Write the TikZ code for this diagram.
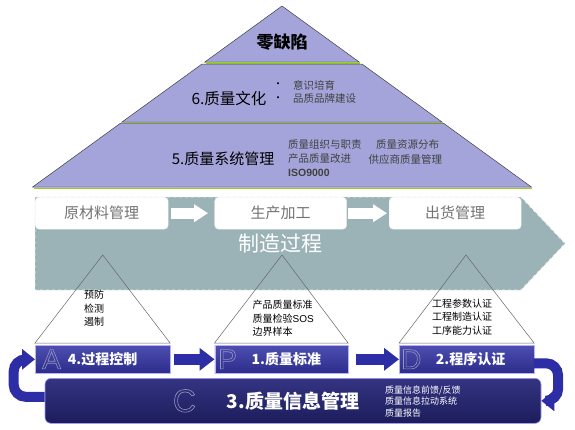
\documentclass[tikz,border=0pt]{standalone}
\usepackage{fontspec}
\setmainfont{Noto Sans CJK SC}
\setsansfont{Liberation Sans}
\usetikzlibrary{arrows.meta,positioning}
\definecolor{pyrfill}{RGB}{164,164,218}
\definecolor{edgegreen}{RGB}{154,205,50}
\definecolor{bandgray}{RGB}{155,179,183}
\definecolor{boxtop}{RGB}{78,78,178}
\definecolor{boxbot}{RGB}{44,44,138}
\definecolor{ctop}{RGB}{52,52,130}
\definecolor{cbot}{RGB}{28,28,92}
\definecolor{loopblue}{RGB}{45,45,165}
\definecolor{lettergray}{RGB}{150,150,190}
\newcommand{\fsz}[1]{\fontsize{#1}{#1}\selectfont}
\newcommand{\hollow}[1]{\special{pdf:literal direct 1 Tr 0.6 w}#1\special{pdf:literal direct 0 Tr 0.4 w}}
\begin{document}
\begin{tikzpicture}[x=1pt, y=-1pt, every node/.style={inner sep=1pt},
  layer/.style={fill=pyrfill, draw=gray!50!black, line width=0.5pt},
  greenedge/.style={draw=edgegreen, line width=1.6pt},
  subtxt/.style={font=\fsz{10.5}, text=black!75},
  flowbox/.style={fill=white, draw=white!85!gray, rounded corners=4pt, minimum height=32pt,
    anchor=north west, text=black!55, font=\fsz{15}},
  flowarrow/.style={white, line width=11pt, -{Triangle[length=14pt,width=17pt]}},
  tri/.style={draw=gray!80!black, line width=0.5pt},
  tritxt/.style={font=\fontsize{10}{13.5}\selectfont, align=left, anchor=west},
  pdcabox/.style={top color=boxtop, bottom color=boxbot, draw=white!70!blue, line width=0.6pt,
    minimum height=28pt, anchor=north west, text=white, font=\bfseries\fsz{14}},
  cbox/.style={top color=ctop, bottom color=cbot, draw=white!60!blue, line width=0.6pt,
    rounded corners=6pt, anchor=north west, text=white, font=\bfseries\fsz{19}},
  letter/.style={text=lettergray, font=\sffamily\fsz{28}},
  pdcaarrow/.style={loopblue, line width=11.5pt, -{Triangle[length=15pt,width=22pt]}},
  looparrow/.style={loopblue, line width=10pt, rounded corners=12pt, -{Triangle[length=13pt,width=20pt]}}]
\useasboundingbox (0,0) rectangle (575,429);

% pyramid
\draw[layer] (282,6) -- (359.2,62) -- (204.8,62) -- cycle;
\draw[greenedge] (206,63.2) -- (360,63.2);
\draw[layer] (202,64) -- (362,64) -- (442,122) -- (122,122) -- cycle;
\draw[greenedge] (124,123.2) -- (443,123.2);
\draw[layer] (120.8,123) -- (443.2,123) -- (531.4,187) -- (32.6,187) -- cycle;
\draw[greenedge] (34,188.3) -- (532,188.3);

\node[font=\fsz{17}\bfseries] (zero) at (282,42) {零缺陷};
\node[font=\fsz{15.5}] (culture) at (229,99) {6.质量文化};
\node[font=\fsz{10}] (dot1) at (278,85) {•};
\node[font=\fsz{10}] (dot2) at (278,99) {•};
\node[subtxt, anchor=west] (cult1) at (292,85) {意识培育};
\node[subtxt, anchor=west] (cult2) at (292,99) {品质品牌建设};
\node[font=\fsz{15}] (qsys) at (223,159) {5.质量系统管理};
\node[subtxt, anchor=west] (qs1) at (287,145) {质量组织与职责};
\node[subtxt, anchor=west] (qs2) at (375,145) {质量资源分布};
\node[subtxt, anchor=west] (qs3) at (287,159) {产品质量改进};
\node[subtxt, anchor=west] (qs4) at (367.5,159) {供应商质量管理};
\node[subtxt, anchor=west] (qs5) at (287,173) {\textsf{\bfseries ISO9000}};

% manufacturing band
\draw[fill=bandgray, draw=white!80!bandgray, dashed, line width=0.8pt]
  (35,197) -- (521,197) -- (565,243.5) -- (521,290) -- (35,290) -- cycle;
\node[font=\fsz{21}, text=white] (mfg) at (280.5,244) {制造过程};

\node[flowbox, minimum width=133] (raw) at (35,197) {原材料管理};
\node[flowbox, minimum width=132] (prod) at (214.5,197) {生产加工};
\node[flowbox, minimum width=132] (ship) at (389,197) {出货管理};
\draw[flowarrow] ([xshift=2.5pt]raw.east) -- ([xshift=-6.5pt]prod.west);
\draw[flowarrow] ([xshift=1.5pt]prod.east) -- ([xshift=-2pt]ship.west);

% PDCA boxes
\node[pdcabox, minimum width=134.5] (pA) at (35,345) {4.过程控制};
\node[pdcabox, minimum width=133] (pP) at (214.5,345) {\hspace{10pt}1.质量标准};
\node[pdcabox, minimum width=134.5] (pD) at (399,345) {\hspace{8pt}2.程序认证};
\node[cbox, minimum width=496, minimum height=45] (cBox) at (44.7,378) {3.质量信息管理};

\node[letter, right=6pt of pA.west] (lA) {\hollow{A}};
\node[letter, right=2.5pt of pP.west] (lP) {\hollow{P}};
\node[letter, right=1pt of pD.west] (lD) {\hollow{D}};
\node[letter, font=\sffamily\fsz{32}, right=127pt of cBox.west] (lC) {\hollow{C}};
\node[anchor=west, font=\fontsize{9}{11.5}\selectfont, text=white, align=left] (cList)
  at (384,401.5) {质量信息前馈/反馈\\质量信息拉动系统\\质量报告};

% small triangles
\coordinate (tipA) at (102.7,255);
\coordinate (tipP) at (282,255);
\coordinate (tipD) at (466,255);
\draw[tri] ([yshift=2pt]pA.north west) -- (tipA) -- ([yshift=2pt]pA.north east) -- cycle;
\draw[tri] ([yshift=2pt]pP.north west) -- (tipP) -- ([yshift=2pt]pP.north east) -- cycle;
\draw[tri] ([yshift=2pt]pD.north west) -- (tipD) -- ([yshift=2pt]pD.north east) -- cycle;
\node[tritxt] (triA) at (83,308.5) {预防\\检测\\遏制};
\node[tritxt] (triP) at (251.5,318.3) {产品质量标准\\质量检验\textsf{SOS}\\边界样本};
\node[tritxt] (triD) at (431,317) {工程参数认证\\工程制造认证\\工序能力认证};

% arrows
\draw[pdcaarrow] ([xshift=3.5pt]pA.east) -- (pP.west);
\draw[pdcaarrow] ([xshift=8pt]pP.east) -- (pD.west);
\draw[looparrow] ([yshift=4pt]cBox.west) -- ++(-31,0) |- (pA.west);
\draw[looparrow] ([yshift=-4pt]pD.east) -- ++(24,0) |- (cBox.east);
\end{tikzpicture}
\end{document}
